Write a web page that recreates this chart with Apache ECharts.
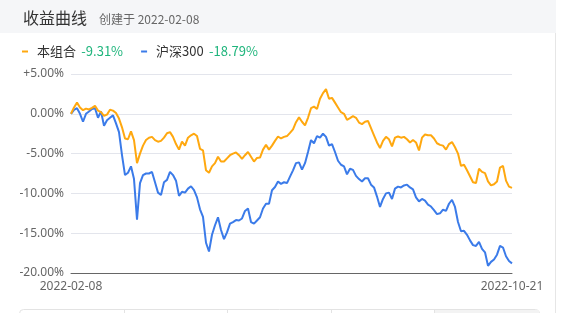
<!DOCTYPE html>
<html><head><meta charset="utf-8">
<script src="https://cdn.jsdelivr.net/npm/echarts@6/dist/echarts.min.js"></script>
<style>html,body{margin:0;padding:0;background:#fff;}#c{width:576px;height:313px;}</style>
</head><body><div id="c"></div>
<script>
const title = '收益曲线';
const subtitle = '创建于 2022-02-08';
const xLabels = ['2022-02-08', '2022-10-21'];
const seriesNames = ['本组合', '沪深300'];
const seriesReturns = ['-9.31%', '-18.79%'];
const yTicks = [-20, -15, -10, -5, 0, 5];

const portfolio = [0,0.8,1.4,0.8,0.45,0.65,0.55,0.75,1.0,0.4,0.2,-0.25,-0.1,0.5,0.4,0.1,-0.6,-1.7,-3.1,-3.2,
-2.2,-3.3,-6.2,-5.0,-4.0,-3.3,-3.0,-2.9,-3.3,-3.5,-3.4,-3.0,-2.45,-2.3,-2.9,-3.8,-4.5,-3.5,-4.0,-3.0,
-2.7,-2.5,-2.8,-4.4,-4.6,-7.1,-7.4,-6.6,-6.2,-5.4,-6.0,-6.0,-5.6,-5.2,-5.0,-4.85,-5.2,-5.65,-5.2,-4.8,
-5.4,-6.0,-5.55,-5.5,-4.5,-3.9,-4.5,-4.0,-3.4,-2.85,-3.1,-2.9,-2.8,-2.4,-1.95,-1.05,-0.45,-1.0,-1.45,-0.5,
0.7,0.9,0.6,1.9,2.6,3.1,1.9,2.0,1.4,0.8,0.2,0.0,-0.75,-0.55,-0.3,-0.5,-1.1,-1.3,-1.0,-0.9,
-1.8,-2.7,-3.6,-4.3,-3.4,-2.9,-3.2,-4.1,-3.0,-2.85,-3.0,-2.9,-3.2,-3.6,-3.3,-3.6,-4.6,-3.0,-2.6,-2.7,
-2.7,-3.1,-3.7,-3.9,-4.0,-4.5,-3.8,-3.55,-4.2,-5.0,-6.55,-6.4,-7.1,-7.85,-8.6,-8.7,-6.9,-7.3,-7.45,-8.5,
-9.0,-8.85,-8.5,-6.75,-6.55,-8.4,-9.15,-9.31];

const hs300 = [0,0.5,0.7,0.0,-1.0,0,0.3,0.6,0.7,-0.5,0.3,-1.5,-0.8,-0.5,-0.2,-1.2,-2.3,-5.2,-7.7,-7.4,
-6.6,-8.2,-13.3,-8.7,-7.7,-7.5,-7.5,-7.3,-8.6,-9.9,-10.2,-8.6,-8.3,-7.3,-7.7,-8.4,-10.3,-9.8,-9.9,-9.4,
-9.1,-9.6,-10.5,-12.0,-12.95,-16.2,-17.3,-15.2,-14.0,-13.0,-14.6,-15.75,-14.9,-13.8,-13.6,-13.35,-13.4,-13.15,-12.2,-11.9,
-13.6,-13.8,-13.4,-13.0,-11.9,-11.3,-11.3,-9.6,-9.2,-8.5,-8.8,-8.6,-8.7,-7.9,-7.1,-6.2,-6.1,-7.0,-6.2,-4.8,
-3.3,-3.7,-2.8,-3.0,-2.5,-2.9,-4.0,-3.8,-4.8,-5.9,-6.4,-6.6,-7.6,-6.9,-7.05,-7.8,-8.2,-8.5,-8.1,-8.1,
-8.9,-9.25,-10.4,-11.7,-10.7,-10.0,-9.9,-10.7,-9.4,-9.15,-9.25,-9.0,-8.9,-9.25,-9.5,-10.5,-11.0,-10.7,-10.9,-11.4,
-11.65,-12.1,-12.6,-12.5,-12.05,-12.2,-11.3,-10.8,-11.7,-13.6,-14.75,-14.7,-15.2,-15.9,-16.5,-16.6,-16.1,-16.97,-17.4,-19.1,
-18.6,-18.3,-17.7,-16.6,-16.8,-17.9,-18.5,-18.79];

const N = portfolio.length;
const categories = portfolio.map((_, i) => i);
const ORANGE = '#ffa80f', BLUE = '#3b7be9', GREEN = '#1fb57c';

const chart = echarts.init(document.getElementById('c'), null, {renderer: 'canvas'});
chart.setOption({
  animation: false,
  backgroundColor: '#fff',
  graphic: [
    {type: 'rect', shape: {x: 0, y: 0, width: 556, height: 33}, style: {fill: '#f5f6f8'}, silent: true, z: -1},
    {type: 'line', shape: {x1: 555.5, y1: 33, x2: 555.5, y2: 313}, style: {stroke: '#e6e6e6', lineWidth: 1}, silent: true},
    {type: 'rect', shape: {x: 19.5, y: 309.5, width: 520, height: 12, r: 4}, style: {fill: '#fff', stroke: '#e3e3e3', lineWidth: 1}, silent: true},
    {type: 'rect', shape: {x: 434, y: 310, width: 105, height: 10}, style: {fill: '#f3f3f3'}, silent: true},
    {type: 'line', shape: {x1: 124.5, y1: 310, x2: 124.5, y2: 313}, style: {stroke: '#e3e3e3'}, silent: true},
    {type: 'line', shape: {x1: 227.5, y1: 310, x2: 227.5, y2: 313}, style: {stroke: '#e3e3e3'}, silent: true},
    {type: 'line', shape: {x1: 331.5, y1: 310, x2: 331.5, y2: 313}, style: {stroke: '#e3e3e3'}, silent: true},
    {type: 'line', shape: {x1: 434.5, y1: 310, x2: 434.5, y2: 313}, style: {stroke: '#e3e3e3'}, silent: true}
  ],
  title: [
    {text: title, left: 18, top: 5, textStyle: {fontSize: 16, fontWeight: 'normal', color: '#333', fontFamily: 'Noto Sans CJK SC'}},
    {text: subtitle, left: 94, top: 8, textStyle: {fontSize: 12, fontWeight: 'normal', color: '#666', fontFamily: 'Noto Sans CJK SC'}}
  ],
  legend: {
    left: 17, top: 40, icon: 'rect', itemWidth: 6, itemHeight: 2, itemGap: 18,
    data: seriesNames,
    formatter: name => `{n|${name}} {v|${seriesReturns[seriesNames.indexOf(name)]}}`,
    textStyle: {
      rich: {
        n: {fontSize: 13, color: '#333', fontFamily: 'Noto Sans CJK SC', padding: [0, 2, 0, 4]},
        v: {fontSize: 13, color: GREEN, fontFamily: 'Noto Sans CJK SC'}
      }
    }
  },
  grid: {left: 71, right: 64, top: 74, bottom: 40, containLabel: false},
  xAxis: {
    type: 'category', data: categories, boundaryGap: false,
    axisLine: {onZero: false, lineStyle: {color: '#666', width: 1}},
    axisTick: {show: false},
    axisLabel: {
      interval: idx => idx === 0 || idx === N - 1,
      formatter: (v, idx) => idx === 0 ? xLabels[0] : xLabels[1],
      color: '#666', fontSize: 12, margin: 8, fontFamily: 'Noto Sans'
    },
    splitLine: {show: false}
  },
  yAxis: {
    type: 'value', min: yTicks[0], max: yTicks[yTicks.length - 1], interval: 5,
    axisLine: {show: false}, axisTick: {show: false},
    axisLabel: {
      formatter: v => (v > 0 ? '+' : '') + v.toFixed(2) + '%',
      color: '#666', fontSize: 12, margin: 7, fontFamily: 'Noto Sans'
    },
    splitLine: {lineStyle: {color: '#e3e5ec', width: 1}}
  },
  series: [
    {name: seriesNames[0], type: 'line', data: portfolio, showSymbol: false, symbol: 'none',
     lineStyle: {color: ORANGE, width: 2}, itemStyle: {color: ORANGE}, z: 3},
    {name: seriesNames[1], type: 'line', data: hs300, showSymbol: false, symbol: 'none',
     lineStyle: {color: BLUE, width: 2}, itemStyle: {color: BLUE}, z: 2}
  ]
});
</script></body></html>
